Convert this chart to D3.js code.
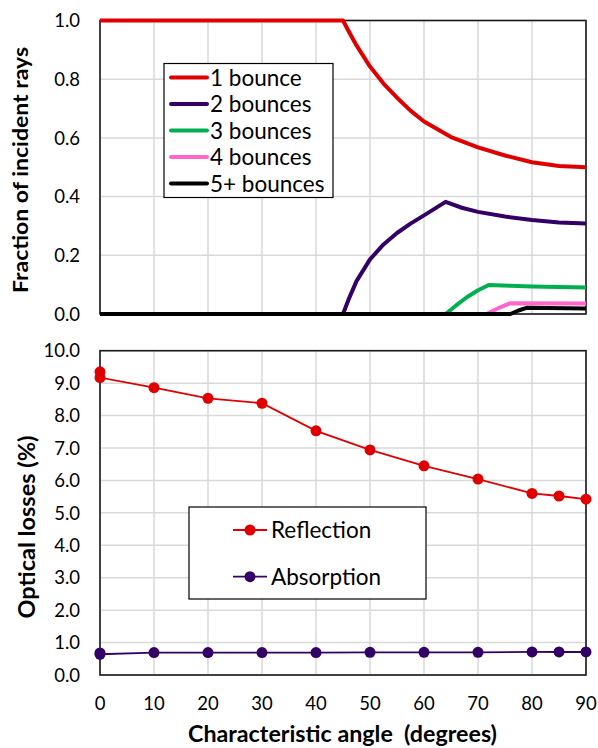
<!DOCTYPE html>
<html>
<head>
<meta charset="utf-8">
<script src="https://cdn.jsdelivr.net/npm/d3@7"></script>
<style>
  body { margin: 0; background: #fff; }
  text { font-family: Lato, "Open Sans", sans-serif; fill: #000; white-space: pre; }
</style>
</head>
<body>
<div id="chart"></div>
<script>
// top panel: fraction of incident rays by number of bounces
const bounceNames = ["1 bounce", "2 bounces", "3 bounces", "4 bounces", "5+ bounces"]
const bounceColors = ["#e00000", "#330066", "#00b050", "#ff66cc", "#000000"]
const oneAngle = [0, 45, 46, 47.5, 50, 52.5, 55, 57.5, 60, 65, 70, 75, 80, 85, 90]
const oneFrac = [1, 1, 0.965, 0.915, 0.843, 0.785, 0.737, 0.693, 0.656, 0.603, 0.568, 0.54, 0.517, 0.504, 0.50]
const twoAngle = [0, 45, 46, 47.5, 50, 52.5, 55, 57.5, 60, 62, 64, 67, 70, 75, 80, 85, 90]
const twoFrac = [0, 0, 0.048, 0.112, 0.186, 0.237, 0.276, 0.308, 0.336, 0.359, 0.382, 0.362, 0.348, 0.332, 0.32, 0.312, 0.308]
const threeAngle = [0, 64, 66, 68, 70, 72, 76, 80, 90]
const threeFrac = [0, 0, 0.03, 0.058, 0.081, 0.099, 0.096, 0.094, 0.09]
const fourAngle = [0, 71.6, 74, 76, 90]
const fourFrac = [0, 0, 0.022, 0.037, 0.036]
const fiveAngle = [0, 76, 77.5, 79, 90]
const fiveFrac = [0, 0, 0.012, 0.021, 0.019]

// bottom panel: optical losses
const lossAngle = [0, 0, 10, 20, 30, 40, 50, 60, 70, 80, 85, 90]
const reflection = [9.35, 9.17, 8.86, 8.53, 8.38, 7.53, 6.94, 6.45, 6.04, 5.60, 5.52, 5.42]
const absorption = [0.68, 0.64, 0.69, 0.69, 0.69, 0.69, 0.70, 0.70, 0.70, 0.71, 0.71, 0.71]

const xTicks = [0, 10, 20, 30, 40, 50, 60, 70, 80, 90]
const topTicks = [0, 0.2, 0.4, 0.6, 0.8, 1.0]
const bottomTicks = d3.range(0, 10.01, 1)

const width = 598
const height = 748

const svg = d3.select("#chart").append("svg")
    .attr("width", width)
    .attr("height", height)

const x = d3.scaleLinear().domain([0, 90]).range([100, 586])
const yTop = d3.scaleLinear().domain([0, 1]).range([314, 20.5])
const yBot = d3.scaleLinear().domain([0, 10]).range([675, 350.7])

function grid(yScale, yTickVals) {
    const g = svg.append("g").attr("stroke", "#d9d9d9").attr("stroke-width", 1.5)
    g.selectAll(".gx").data(xTicks).join("line")
        .attr("x1", d => x(d)).attr("x2", d => x(d))
        .attr("y1", yScale.range()[0]).attr("y2", yScale.range()[1])
    g.selectAll(".gy").data(yTickVals).join("line")
        .attr("x1", 100).attr("x2", 586)
        .attr("y1", d => yScale(d)).attr("y2", d => yScale(d))
}

function frame(yScale) {
    svg.append("rect")
        .attr("x", 100).attr("y", yScale.range()[1])
        .attr("width", 486).attr("height", yScale.range()[0] - yScale.range()[1])
        .attr("fill", "none").attr("stroke", "#1a1a1a").attr("stroke-width", 1.6)
}

function yLabels(yScale, vals) {
    svg.append("g").selectAll("text").data(vals).join("text")
        .attr("x", 80).attr("y", d => yScale(d))
        .attr("dy", "0.36em")
        .attr("text-anchor", "end")
        .attr("font-size", 18.5)
        .text(d => d3.format(".1f")(d))
}

// ---- top panel
grid(yTop, topTicks)
frame(yTop)
yLabels(yTop, topTicks)

const bounceSeries = [
    [oneAngle, oneFrac], [twoAngle, twoFrac], [threeAngle, threeFrac],
    [fourAngle, fourFrac], [fiveAngle, fiveFrac]
]

const lineTop = d3.line()
    .x(d => x(d[0]))
    .y(d => yTop(d[1]))

svg.append("g")
    .attr("fill", "none")
    .attr("stroke-width", 4)
    .attr("stroke-linejoin", "round")
    .selectAll("path")
    .data(bounceSeries)
    .join("path")
    .attr("stroke", (d, i) => bounceColors[i])
    .attr("d", d => lineTop(d[0].map((a, i) => [a, d[1][i]])))

// top legend
const legTop = svg.append("g")
legTop.append("rect")
    .attr("x", 164).attr("y", 63.5).attr("width", 169).attr("height", 134)
    .attr("fill", "#fff").attr("stroke", "#000").attr("stroke-width", 1.2)
legTop.selectAll("line").data(bounceNames).join("line")
    .attr("x1", 171).attr("x2", 207)
    .attr("y1", (d, i) => 77.5 + i * 26.5).attr("y2", (d, i) => 77.5 + i * 26.5)
    .attr("stroke", (d, i) => bounceColors[i])
    .attr("stroke-width", 4)
    .attr("stroke-linecap", "round")
legTop.selectAll("text").data(bounceNames).join("text")
    .attr("x", 210)
    .attr("y", (d, i) => 77.5 + i * 26.5)
    .attr("dy", "0.36em")
    .attr("font-size", 22.5)
    .text(d => d)

svg.append("text")
    .attr("transform", `translate(28,170) rotate(-90)`)
    .attr("text-anchor", "middle")
    .attr("font-size", 21)
    .attr("font-weight", "bold")
    .attr("textLength", 246)
    .attr("lengthAdjust", "spacingAndGlyphs")
    .text("Fraction of incident rays")

// ---- bottom panel
grid(yBot, bottomTicks)
frame(yBot)
yLabels(yBot, bottomTicks)

svg.append("g").selectAll("text").data(xTicks).join("text")
    .attr("x", d => x(d)).attr("y", 703)
    .attr("dy", "0.36em")
    .attr("text-anchor", "middle")
    .attr("font-size", 18.5)
    .text(d => d)

const lossSeries = [
    { name: "Reflection", color: "#e00000", values: reflection },
    { name: "Absorption", color: "#330066", values: absorption }
]

const lineBot = d3.line()
    .x((d, i) => x(lossAngle[i]))
    .y(d => yBot(d))

lossSeries.forEach(s => {
    svg.append("path")
        .attr("fill", "none")
        .attr("stroke", s.color)
        .attr("stroke-width", 1.8)
        .attr("d", lineBot(s.values))
    svg.append("g").selectAll("circle").data(s.values).join("circle")
        .attr("cx", (d, i) => x(lossAngle[i]))
        .attr("cy", d => yBot(d))
        .attr("r", 5.5)
        .attr("fill", s.color)
})

// bottom legend
const legBot = svg.append("g")
legBot.append("rect")
    .attr("x", 189).attr("y", 507).attr("width", 237).attr("height", 92)
    .attr("fill", "#fff").attr("stroke", "#000").attr("stroke-width", 1.2)
lossSeries.forEach((s, i) => {
    const ly = 530 + i * 46.7
    legBot.append("line")
        .attr("x1", 233).attr("x2", 267).attr("y1", ly).attr("y2", ly)
        .attr("stroke", s.color).attr("stroke-width", 1.8)
    legBot.append("circle")
        .attr("cx", 250).attr("cy", ly).attr("r", 5.5).attr("fill", s.color)
    legBot.append("text")
        .attr("x", 271).attr("y", ly).attr("dy", "0.36em")
        .attr("font-size", 22.5)
        .text(s.name)
})

svg.append("text")
    .attr("transform", `translate(35,527) rotate(-90)`)
    .attr("text-anchor", "middle")
    .attr("font-size", 23)
    .attr("font-weight", "bold")
    .attr("textLength", 183)
    .attr("lengthAdjust", "spacingAndGlyphs")
    .text("Optical losses (%)")

svg.append("text")
    .attr("x", 342.5).attr("y", 742)
    .attr("text-anchor", "middle")
    .attr("font-size", 23)
    .attr("font-weight", "bold")
    .attr("textLength", 309)
    .attr("lengthAdjust", "spacingAndGlyphs")
    .text("Characteristic angle  (degrees)")
</script>
</body>
</html>
